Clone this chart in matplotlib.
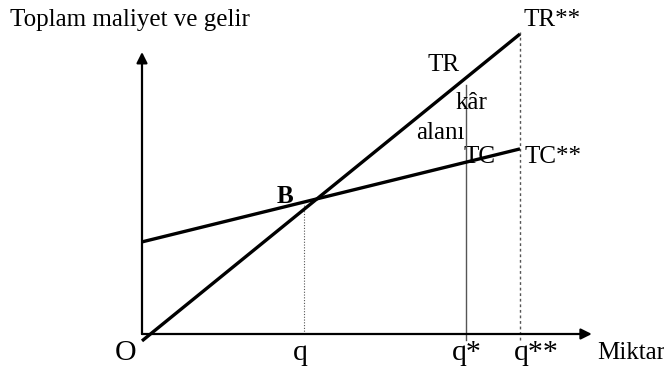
import matplotlib
matplotlib.use("Agg")
import matplotlib.pyplot as plt

plt.rcParams['font.family'] = ['Liberation Serif', 'DejaVu Serif']

# quantities on the horizontal axis
q_even = 3.0      # break-even quantity (point B)
q_star = 6.0
q_2star = 7.0

# revenue and cost lines, given at their two end quantities
line_q = [0.0, 7.0]
tr = [-0.23, 10.0]
tc = [3.07, 6.17]

def tc_at(x):
    return tc[0] + (tc[1] - tc[0]) * (x - line_q[0]) / (line_q[1] - line_q[0])

fig = plt.figure(figsize=(6.64, 3.73), dpi=100)
ax = fig.add_axes([0, 0, 1, 1])
ax.set_xlim(-142 / 54, (664 - 142) / 54)
ax.set_ylim(-39 / 30, 334 / 30)
ax.axis('off')

# axes with arrow heads
ax.annotate('', xy=(0, 9.4), xytext=(0, 0),
            arrowprops=dict(arrowstyle='-|>', lw=1.6, color='black', mutation_scale=16, shrinkA=0, shrinkB=0))
ax.annotate('', xy=(8.33, 0), xytext=(0, 0),
            arrowprops=dict(arrowstyle='-|>', lw=1.6, color='black', mutation_scale=16, shrinkA=0, shrinkB=0))

# guide lines
ax.plot([q_even, q_even], [0, tc_at(q_even) - 0.1], color='#555555', lw=0.8, ls=(0, (1, 1.5)))
ax.plot([q_star, q_star], [-0.2, 8.3], color='#555555', lw=1.0)
ax.plot([q_2star, q_2star], [-0.2, 10.07], color='#555555', lw=1.0, ls=(0, (2, 2)))

# total revenue and total cost
ax.plot(line_q, tr, color='black', lw=2.4, solid_capstyle='butt')
ax.plot(line_q, tc, color='black', lw=2.4, solid_capstyle='butt')

fs = 18
ax.text(-2.44, 10.47, 'Toplam maliyet ve gelir', fontsize=fs, va='center', ha='left')
ax.text(7.07, 10.47, 'TR**', fontsize=fs, va='center', ha='left')
ax.text(5.28, 8.97, 'TR', fontsize=fs, va='center', ha='left')
ax.text(5.81, 7.7, 'kâr', fontsize=fs, va='center', ha='left')
ax.text(5.07, 6.7, 'alanı', fontsize=fs, va='center', ha='left')
ax.text(5.96, 5.9, 'TC', fontsize=fs, va='center', ha='left', zorder=1)
ax.text(7.09, 5.9, 'TC**', fontsize=fs, va='center', ha='left')
ax.text(2.5, 4.57, 'B', fontsize=fs, va='center', ha='left', fontweight='bold')

fs2 = 21.5
ax.text(-0.31, -0.63, 'O', fontsize=fs2, va='center', ha='center')
ax.text(q_even - 0.07, -0.63, 'q', fontsize=fs2, va='center', ha='center')
ax.text(q_star + 0.02, -0.63, 'q*', fontsize=fs2, va='center', ha='center')
ax.text(q_2star + 0.3, -0.63, 'q**', fontsize=fs2, va='center', ha='center')
ax.text(8.43, -0.63, 'Miktar', fontsize=fs, va='center', ha='left')

fig.savefig('out.png', dpi=100)
